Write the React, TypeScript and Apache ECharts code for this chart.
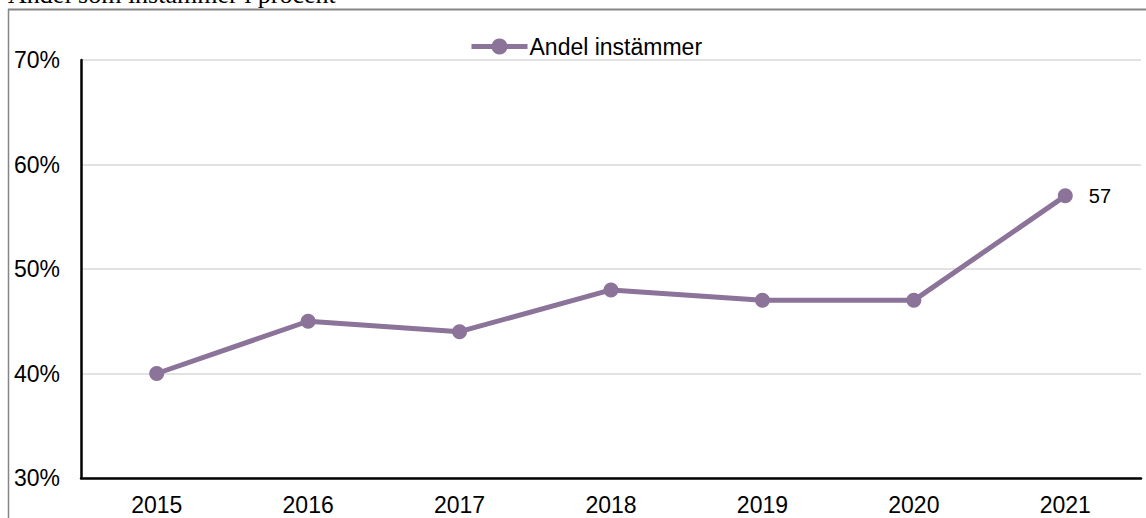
import React, { useEffect, useRef } from "react";
import * as echarts from "echarts";

const title = "Andel som instämmer i procent";
const seriesName = "Andel instämmer";
const years = ["2015", "2016", "2017", "2018", "2019", "2020", "2021"];
const values = [40, 45, 44, 48, 47, 47, 57];
const labelledIndex = 6;
const yMin = 30;
const yMax = 70;
const yStep = 10;

export default function App() {
  const ref = useRef<HTMLDivElement>(null);
  useEffect(() => {
    if (!ref.current) return;
    const chart = echarts.init(ref.current, undefined, { renderer: "svg" });
    const color = "#8b7399";
    const font = "'Liberation Sans', Arial, sans-serif";
    chart.setOption({
      animation: false,
      backgroundColor: "#ffffff",
      textStyle: { fontFamily: font },
      graphic: [
        {
          type: "text",
          x: 8,
          y: -6,
          style: {
            text: title,
            fontFamily: "'Liberation Serif', 'Times New Roman', serif",
            fontSize: 26,
            fill: "#000",
            verticalAlign: "middle",
            align: "left",
          },
        },
        {
          type: "line",
          shape: { x1: 8, y1: 9.5, x2: 1146, y2: 9.5 },
          style: { stroke: "#858585", lineWidth: 2 },
        },
        {
          type: "line",
          shape: { x1: 8.5, y1: 9, x2: 8.5, y2: 518 },
          style: { stroke: "#858585", lineWidth: 1.5 },
        },
      ],
      legend: {
        left: 464,
        top: 30,
        itemWidth: 56,
        itemHeight: 20,
        itemGap: 10,
        itemStyle: { color },
        lineStyle: { width: 5, color },
        textStyle: { fontSize: 23, color: "#000", fontFamily: font, padding: [0, 0, 0, -3] },
        data: [seriesName],
      },
      grid: { left: 81, right: 5, top: 60, bottom: 40, containLabel: false },
      xAxis: {
        type: "category",
        data: years,
        boundaryGap: true,
        axisLine: { show: true, lineStyle: { color: "#000", width: 2.5 } },
        axisTick: { show: false },
        axisLabel: { fontSize: 23, color: "#000", margin: 15, fontFamily: font },
        splitLine: { show: false },
      },
      yAxis: {
        type: "value",
        min: yMin,
        max: yMax,
        interval: yStep,
        axisLine: { show: true, lineStyle: { color: "#000", width: 2.5 } },
        axisTick: { show: false },
        axisLabel: {
          fontSize: 23,
          color: "#000",
          margin: 21,
          fontFamily: font,
          formatter: "{value}%",
        },
        splitLine: { show: true, lineStyle: { color: "#d9d9d9", width: 1.5 } },
      },
      series: [
        {
          name: seriesName,
          type: "line",
          data: values.map((v, i) =>
            i === labelledIndex
              ? {
                  value: v,
                  label: {
                    show: true,
                    position: "right",
                    distance: 16,
                    fontSize: 20,
                    color: "#000",
                    fontFamily: font,
                  },
                }
              : v
          ),
          symbol: "circle",
          symbolSize: 15,
          lineStyle: { color, width: 5 },
          itemStyle: { color },
          label: { show: false },
        },
      ],
    });
    return () => chart.dispose();
  }, []);
  return (
    <div
      ref={ref}
      style={{ position: "absolute", left: 0, top: 0, width: 1146, height: 518 }}
    />
  );
}
